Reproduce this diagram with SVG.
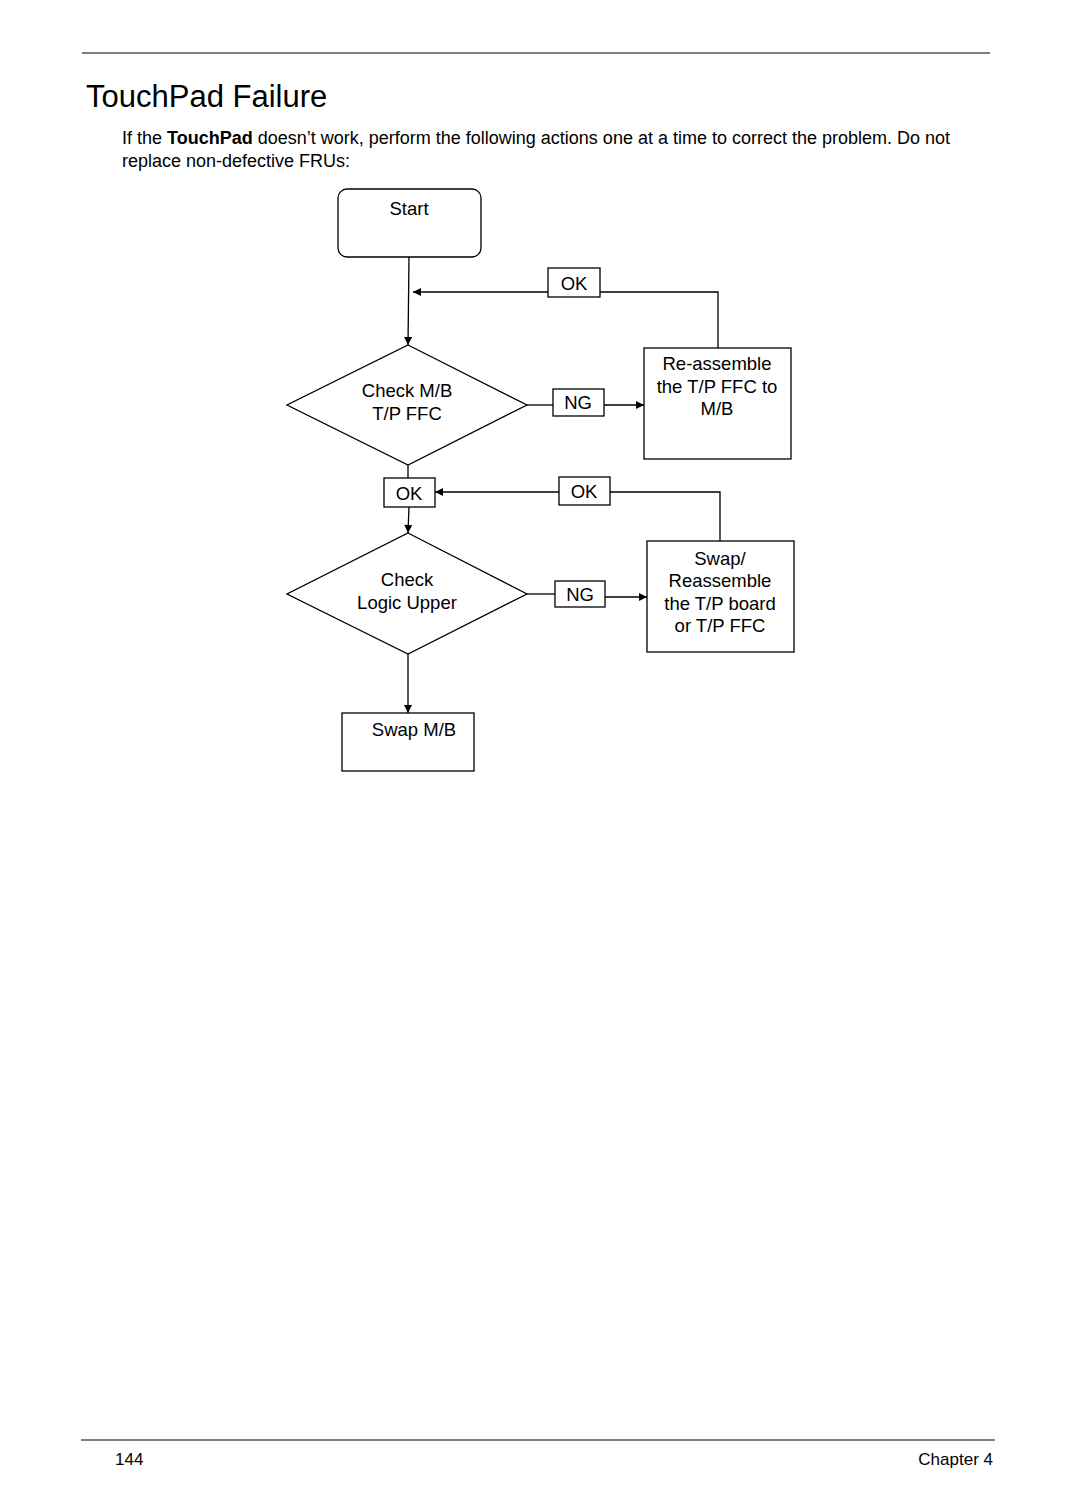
<svg xmlns="http://www.w3.org/2000/svg" width="1080" height="1512" viewBox="0 0 1080 1512">
<style>
text{font-family:"Liberation Sans",Arial,sans-serif;fill:#000}
.n{font-size:18.5px;text-anchor:middle}
.shape{fill:#fff;stroke:#000;stroke-width:1.3}
.c{fill:none;stroke:#000;stroke-width:1.3}
.rule{stroke:#808080;stroke-width:2}
</style>
<defs>
<marker id="ah" viewBox="0 0 10 10" refX="10" refY="5" markerWidth="9" markerHeight="8" markerUnits="userSpaceOnUse" orient="auto">
<path d="M0,0 L10,5 L0,10 z" fill="#000"/>
</marker>
</defs>
<rect width="1080" height="1512" fill="#fff"/>
<line class="rule" x1="82" y1="53" x2="990" y2="53"/>
<text x="86" y="107" font-size="31">TouchPad Failure</text>
<text x="122" y="144" font-size="18">If the <tspan font-weight="bold">TouchPad</tspan> doesn’t work, perform the following actions one at a time to correct the problem. Do not</text>
<text x="122" y="167" font-size="18">replace non-defective FRUs:</text>

<g id="connectors">
<path class="c" d="M409,257 L408,345" marker-end="url(#ah)"/>
<path class="c" d="M548,292 L413,292" marker-end="url(#ah)"/>
<path class="c" d="M600,292 L718,292 L718,348"/>
<path class="c" d="M527,405 L553,405"/>
<path class="c" d="M604,405 L644,405" marker-end="url(#ah)"/>
<path class="c" d="M408,465 L408,478"/>
<path class="c" d="M409,507 L408,533" marker-end="url(#ah)"/>
<path class="c" d="M559,492 L435,492" marker-end="url(#ah)"/>
<path class="c" d="M610,492 L720,492 L720,541"/>
<path class="c" d="M527,594 L555,594"/>
<path class="c" d="M605,597 L647,597" marker-end="url(#ah)"/>
<path class="c" d="M408,654 L408,713" marker-end="url(#ah)"/>
</g>

<g id="start">
<rect class="shape" x="338" y="189" width="143" height="68" rx="9"/>
<text class="n" x="409" y="215">Start</text>
</g>
<g id="ok1">
<rect class="shape" x="548" y="268" width="52" height="29"/>
<text class="n" x="574" y="290">OK</text>
</g>
<g id="reassemble">
<rect class="shape" x="644" y="348" width="147" height="111"/>
<text class="n" x="717" y="370">Re-assemble</text>
<text class="n" x="717" y="393">the T/P FFC to</text>
<text class="n" x="717" y="415">M/B</text>
</g>
<g id="check1">
<polygon class="shape" points="408,345 527,405 408,465 287,405"/>
<text class="n" x="407" y="397">Check M/B</text>
<text class="n" x="407" y="420">T/P FFC</text>
</g>
<g id="ng1">
<rect class="shape" x="553" y="389" width="51" height="27"/>
<text class="n" x="578" y="409">NG</text>
</g>
<g id="ok2">
<rect class="shape" x="384" y="478" width="51" height="29"/>
<text class="n" x="409" y="500">OK</text>
</g>
<g id="ok3">
<rect class="shape" x="559" y="477" width="51" height="28"/>
<text class="n" x="584" y="498">OK</text>
</g>
<g id="swap">
<rect class="shape" x="647" y="541" width="147" height="111"/>
<text class="n" x="720" y="565">Swap/</text>
<text class="n" x="720" y="587">Reassemble</text>
<text class="n" x="720" y="610">the T/P board</text>
<text class="n" x="720" y="632">or T/P FFC</text>
</g>
<g id="check2">
<polygon class="shape" points="408,533 527,594 408,654 287,594"/>
<text class="n" x="407" y="586">Check</text>
<text class="n" x="407" y="609">Logic Upper</text>
</g>
<g id="ng2">
<rect class="shape" x="555" y="581" width="50" height="26"/>
<text class="n" x="580" y="601">NG</text>
</g>
<g id="swapmb">
<rect class="shape" x="342" y="713" width="132" height="58"/>
<text class="n" x="414" y="736">Swap M/B</text>
</g>

<line class="rule" x1="81" y1="1440" x2="995" y2="1440"/>
<text x="115" y="1465" font-size="17">144</text>
<text x="993" y="1465" font-size="17" text-anchor="end">Chapter 4</text>
</svg>
